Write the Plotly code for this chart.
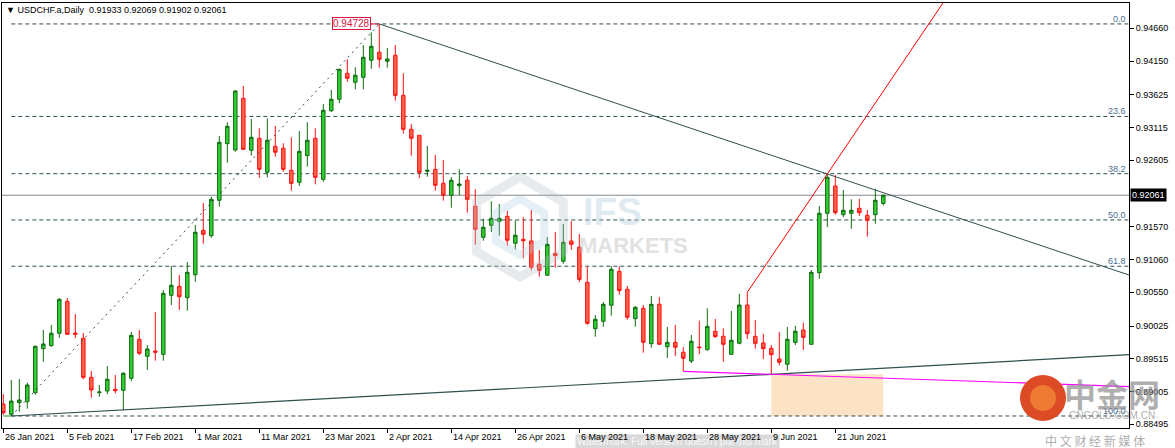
import plotly.graph_objects as go
import pandas as pd
import math

symbol = "USDCHF.a,Daily"

opens = [0.88811, 0.88650, 0.88831, 0.88846, 0.88987, 0.89672, 0.89719, 0.89912, 0.90410, 0.89916,
         0.89834, 0.89226, 0.88987, 0.89013, 0.89040, 0.89024, 0.89211, 0.89818, 0.89553, 0.89636,
         0.89584, 0.90503, 0.90643, 0.90466, 0.90824, 0.91515, 0.91431, 0.91982, 0.92864, 0.92765,
         0.93570, 0.92761, 0.92948, 0.92418, 0.92823, 0.92792, 0.92449, 0.92263, 0.92677, 0.92948,
         0.92309, 0.93377, 0.93555, 0.93960, 0.93820, 0.93897, 0.94162, 0.94287, 0.94147, 0.94240,
         0.93617, 0.93088, 0.92994, 0.92434, 0.92465, 0.92247, 0.92060, 0.92210, 0.92294, 0.91889,
         0.91406, 0.91593, 0.91655, 0.91733, 0.91313, 0.91375, 0.91349, 0.90986, 0.90815, 0.91157,
         0.91033, 0.91349, 0.91251, 0.90706, 0.89983, 0.90098, 0.90348, 0.90877, 0.90597, 0.90139,
         0.90301, 0.89750, 0.90363, 0.89703, 0.89771, 0.89616, 0.89480, 0.89698, 0.89656, 0.89943,
         0.89865, 0.89584, 0.89756, 0.90352, 0.89865, 0.89761, 0.89678, 0.89511, 0.89429, 0.89771,
         0.89963, 0.89740, 0.90855, 0.91780, 0.92205, 0.91758, 0.91780, 0.91858, 0.91749, 0.91758,
         0.91933]
highs = [0.88966, 0.89184, 0.89200, 0.89142, 0.89719, 0.89963, 0.90041, 0.90461, 0.90461, 0.90212,
         0.89916, 0.89325, 0.89107, 0.89402, 0.89262, 0.89304, 0.89932, 0.89963, 0.89729, 0.90243,
         0.90586, 0.90959, 0.90819, 0.91022, 0.91598, 0.91940, 0.92038, 0.92983, 0.93197, 0.93700,
         0.93762, 0.93248, 0.93103, 0.93259, 0.93139, 0.92870, 0.92963, 0.93061, 0.93197, 0.93103,
         0.93482, 0.93700, 0.94031, 0.94178, 0.94053, 0.94400, 0.94598, 0.94728, 0.94354, 0.94400,
         0.93960, 0.93170, 0.93000, 0.92828, 0.92688, 0.92610, 0.92345, 0.92465, 0.92361, 0.92154,
         0.91696, 0.91967, 0.91925, 0.91816, 0.91671, 0.91722, 0.91831, 0.91209, 0.91411, 0.91489,
         0.91613, 0.91660, 0.91458, 0.90949, 0.90196, 0.90399, 0.90959, 0.90955, 0.90648, 0.90337,
         0.90352, 0.90492, 0.90477, 0.90010, 0.90041, 0.89694, 0.89885, 0.90108, 0.90301, 0.90134,
         0.89989, 0.90259, 0.90528, 0.90550, 0.90119, 0.89905, 0.89729, 0.89932, 0.90010, 0.90030,
         0.90077, 0.90897, 0.91894, 0.92392, 0.92376, 0.92143, 0.91998, 0.92003, 0.91831, 0.92163,
         0.92069]
lows = [0.88639, 0.88624, 0.88691, 0.88738, 0.88956, 0.89469, 0.89703, 0.89843, 0.89890, 0.89834,
        0.89195, 0.88909, 0.88924, 0.88962, 0.88977, 0.88713, 0.89164, 0.89574, 0.89340, 0.89485,
        0.89485, 0.90352, 0.90274, 0.90263, 0.90715, 0.91307, 0.91400, 0.91883, 0.92568, 0.92739,
        0.92770, 0.92677, 0.92334, 0.92340, 0.92661, 0.92428, 0.92132, 0.92205, 0.92506, 0.92231,
        0.92272, 0.93357, 0.93493, 0.93829, 0.93711, 0.93711, 0.94031, 0.94047, 0.94047, 0.93533,
        0.93019, 0.92677, 0.92325, 0.92350, 0.92132, 0.91976, 0.91867, 0.92060, 0.91789, 0.91291,
        0.91353, 0.91489, 0.91431, 0.91276, 0.91219, 0.91079, 0.90892, 0.90793, 0.90810, 0.90933,
        0.90995, 0.91213, 0.90706, 0.90045, 0.89859, 0.90014, 0.90186, 0.90512, 0.90123, 0.90014,
        0.89610, 0.89687, 0.89735, 0.89527, 0.89558, 0.89320, 0.89449, 0.89584, 0.89641, 0.89843,
        0.89469, 0.89580, 0.89740, 0.89823, 0.89672, 0.89511, 0.89273, 0.89413, 0.89329, 0.89729,
        0.89651, 0.89735, 0.90762, 0.91567, 0.91758, 0.91722, 0.91540, 0.91738, 0.91416, 0.91618,
        0.91902]
closes = [0.88675, 0.88857, 0.88873, 0.89107, 0.89709, 0.89745, 0.89912, 0.90441, 0.89896, 0.89896,
          0.89226, 0.89029, 0.88998, 0.89195, 0.89018, 0.89289, 0.89880, 0.89600, 0.89667, 0.89616,
          0.90534, 0.90659, 0.90481, 0.90861, 0.91484, 0.91453, 0.91998, 0.92885, 0.93134, 0.93684,
          0.92776, 0.92963, 0.92465, 0.92917, 0.92730, 0.92465, 0.92247, 0.92745, 0.92917, 0.92340,
          0.93384, 0.93555, 0.94022, 0.93882, 0.93929, 0.94209, 0.94380, 0.94178, 0.94182, 0.93617,
          0.93088, 0.92948, 0.92418, 0.92449, 0.92216, 0.92060, 0.92294, 0.92236, 0.91998, 0.91531,
          0.91562, 0.91702, 0.91702, 0.91360, 0.91437, 0.91353, 0.90939, 0.90892, 0.91297, 0.91120,
          0.91328, 0.91297, 0.90752, 0.90067, 0.90130, 0.90363, 0.90908, 0.90575, 0.90161, 0.90316,
          0.89771, 0.90363, 0.89740, 0.89771, 0.89694, 0.89522, 0.89787, 0.89687, 0.90020, 0.89859,
          0.89740, 0.89803, 0.90352, 0.89905, 0.89756, 0.89672, 0.89578, 0.89460, 0.89818, 0.89943,
          0.89849, 0.90861, 0.91780, 0.92340, 0.91789, 0.91827, 0.91827, 0.91789, 0.91671, 0.91982,
          0.92061]

tick_labels = ["26 Jan 2021", "5 Feb 2021", "17 Feb 2021", "1 Mar 2021", "11 Mar 2021",
               "23 Mar 2021", "2 Apr 2021", "14 Apr 2021", "26 Apr 2021", "6 May 2021",
               "18 May 2021", "28 May 2021", "9 Jun 2021", "21 Jun 2021"]
price_ticks = [0.94660, 0.94150, 0.93625, 0.93115, 0.92605, 0.91570, 0.91060,
               0.90550, 0.90025, 0.89515, 0.89005, 0.88495]
fib_levels = [0.0, 23.6, 38.2, 50.0, 61.8, 100.0]

# ---------------------------------------------------------------
n = len(opens)
xs = list(range(n))
dates = pd.bdate_range("2021-01-26", periods=n)
date_str = [f"{d.day} {d.strftime('%b %Y')}" for d in dates]
tick_pos = [date_str.index(t) for t in tick_labels]

X0, X1 = -0.1625, 140.71
Y0, Y1 = 0.88437, 0.95054
W, H = 1175, 448
ML, MR, MT, MB = 2, 46, 3, 20
PW, PH = W - ML - MR, H - MT - MB


def px(xp):
    return (xp - ML) / PW


def py(yp):
    return 1 - (yp - MT) / PH


def extend(xa, ya, xb, yb, xe):
    s = (yb - ya) / (xb - xa)
    return [xa, xe], [ya, ya + s * (xe - xa)]


i_hi = highs.index(max(highs))
i_lo = lows.index(min(lows))
hi, lo = highs[i_hi], lows[i_lo]

FONT = "Liberation Sans, Arial, sans-serif"
CJK = "Noto Sans CJK SC"
DSG = "#2f4f4f"

fig = go.Figure()

tx, ty = extend(i_hi, hi, 103, highs[103], X1)
fig.add_trace(go.Scatter(x=tx, y=ty, mode="lines", line=dict(color=DSG, width=1),
                         hoverinfo="skip", showlegend=False))
tx, ty = extend(i_lo, lo, 96, lows[96], X1)
fig.add_trace(go.Scatter(x=tx, y=ty, mode="lines", line=dict(color=DSG, width=1.2),
                         hoverinfo="skip", showlegend=False))
tx, ty = extend(85, lows[85], 96, lows[96], X1)
fig.add_trace(go.Scatter(x=tx, y=ty, mode="lines", line=dict(color="#ff00ff", width=1.2),
                         hoverinfo="skip", showlegend=False))
tx, ty = extend(93, highs[93], 103, highs[103], 125)
fig.add_trace(go.Scatter(x=tx, y=ty, mode="lines", line=dict(color="#ff0000", width=1),
                         hoverinfo="skip", showlegend=False))
fig.add_trace(go.Scatter(x=[i_lo, i_hi], y=[lo, hi], mode="lines",
                         line=dict(color=DSG, width=1, dash="2px,4px"),
                         hoverinfo="skip", showlegend=False))

fig.add_trace(go.Candlestick(
    x=xs, open=opens, high=highs, low=lows, close=closes,
    increasing=dict(line=dict(color="#0d6b0d", width=1), fillcolor="#32cd32"),
    decreasing=dict(line=dict(color="#ff1010", width=1), fillcolor="#ff6347"),
    whiskerwidth=0, showlegend=False, hoverinfo="skip"))

shapes = []
shapes.append(dict(type="rect", xref="x", yref="y", x0=96, x1=110, y0=lo, y1=lows[96],
                   fillcolor="#fde3c6", line=dict(width=0), layer="below"))
shapes.append(dict(type="line", xref="paper", yref="y", x0=0, x1=1, y0=closes[-1], y1=closes[-1],
                   line=dict(color="#808890", width=1), layer="below"))
annotations = []
for lv in fib_levels:
    p = hi - lv / 100.0 * (hi - lo)
    shapes.append(dict(type="line", xref="x", yref="y", x0=1, x1=X1, y0=p, y1=p,
                       line=dict(color=DSG, width=1, dash="4px,3px"), layer="below"))
    annotations.append(dict(x=X1, y=p, xref="x", yref="y", text=f"{lv:.1f}", showarrow=False,
                            xanchor="right", yanchor="bottom", xshift=-1, yshift=-2,
                            font=dict(family=FONT, size=9, color="#4a6f94")))
shapes.append(dict(type="line", xref="x", yref="y", x0=0, x1=1, y0=lo, y1=lo,
                   line=dict(color="#1a9a1a", width=1)))
shapes.append(dict(type="line", xref="x", yref="y", x0=45.9, x1=i_hi, y0=hi, y1=hi,
                   line=dict(color="#dc143c", width=1)))


def hexpath(cx, cy, r):
    pts = []
    for k in range(6):
        a = math.radians(90 + 60 * k)
        pts.append((px(cx + r * math.cos(a)), py(cy - r * math.sin(a))))
    return "M " + " L ".join(f"{a:.5f},{b:.5f}" for a, b in pts) + " Z"


shapes.append(dict(type="path", xref="paper", yref="paper", path=hexpath(520, 227, 50),
                   line=dict(color="rgba(175,188,200,0.30)", width=9)))
shapes.append(dict(type="path", xref="paper", yref="paper", path=hexpath(520, 227, 28),
                   line=dict(color="rgba(170,205,225,0.30)", width=8)))
# cngold logo
shapes.append(dict(type="circle", xref="paper", yref="paper",
                   x0=px(1020), x1=px(1066), y0=py(421), y1=py(375),
                   fillcolor="#dc4a26", line=dict(width=0)))
shapes.append(dict(type="circle", xref="paper", yref="paper",
                   x0=px(1030), x1=px(1056), y0=py(411), y1=py(385),
                   fillcolor="#ee7a34", line=dict(width=0)))

annotations.append(dict(x=px(4), y=py(10), xref="paper", yref="paper", xanchor="left",
                        yanchor="middle", showarrow=False,
                        text=f"\u25BC {symbol}  {opens[-1]:.5f} {highs[-1]:.5f} {lows[-1]:.5f} {closes[-1]:.5f}",
                        font=dict(family=FONT, size=9, color="black")))
annotations.append(dict(x=45.9, y=hi, xref="x", yref="y", xanchor="right", yanchor="middle",
                        showarrow=False, text=f"{hi:.5f}", bgcolor="white",
                        bordercolor="#dc143c", borderwidth=1, borderpad=0,
                        font=dict(family=FONT, size=10, color="#dc143c")))
annotations.append(dict(x=1, y=closes[-1], xref="paper", yref="y", xanchor="left",
                        yanchor="middle", showarrow=False, text=f"{closes[-1]:.5f}",
                        bgcolor="black", borderpad=1, xshift=1,
                        font=dict(family=FONT, size=9, color="white")))
annotations.append(dict(x=px(677), y=py(441), xref="paper", yref="paper", showarrow=False,
                        xanchor="center", yanchor="middle",
                        text="Watermark: Full version doesn't put this mark",
                        bgcolor="rgba(170,170,170,0.45)", borderpad=1,
                        font=dict(family=FONT, size=10, color="rgba(255,255,255,0.85)")))
for pos, lab in zip(tick_pos, tick_labels):
    annotations.append(dict(x=pos, y=py(437), xref="x", yref="paper", xanchor="left",
                            yanchor="middle", showarrow=False, text=lab, xshift=0,
                            font=dict(family=FONT, size=9, color="black")))
annotations.append(dict(x=px(612), y=py(212), xref="paper", yref="paper", showarrow=False,
                        xanchor="center", yanchor="middle",
                        text="<b>IFS</b>", font=dict(family=FONT, size=38,
                                                     color="rgba(185,208,224,0.45)")))
annotations.append(dict(x=px(633), y=py(245), xref="paper", yref="paper", showarrow=False,
                        xanchor="center", yanchor="middle",
                        text="<b>MARKETS</b>", font=dict(family=FONT, size=22,
                                                         color="rgba(195,195,195,0.5)")))
annotations.append(dict(x=px(1112), y=py(393), xref="paper", yref="paper", showarrow=False,
                        xanchor="center", yanchor="middle",
                        text="<b>中金网</b>", font=dict(family=CJK, size=32,
                                                      color="rgba(140,140,140,0.7)")))
annotations.append(dict(x=px(1112), y=py(415), xref="paper", yref="paper", showarrow=False,
                        xanchor="center", yanchor="middle",
                        text="CNGOLD.COM.CN", font=dict(family=FONT, size=10,
                                                        color="rgba(150,150,150,0.8)")))
annotations.append(dict(x=px(1095), y=py(440), xref="paper", yref="paper", showarrow=False,
                        xanchor="center", yanchor="middle",
                        text="中 文 财 经 新 媒 体", font=dict(family=CJK, size=12,
                                                         color="rgba(150,150,150,0.8)")))

fig.update_layout(
    width=W, height=H, autosize=False,
    margin=dict(l=ML, r=MR, t=MT, b=MB, pad=0),
    paper_bgcolor="white", plot_bgcolor="white",
    boxgap=0.38,
    showlegend=False,
    shapes=shapes, annotations=annotations,
    xaxis=dict(range=[X0, X1], type="linear", showgrid=False, zeroline=False,
               showline=True, linecolor="black", linewidth=1, mirror=True,
               tickvals=tick_pos, ticks="outside", ticklen=4, tickcolor="black",
               showticklabels=False, rangeslider=dict(visible=False), fixedrange=True),
    yaxis=dict(range=[Y0, Y1], side="right", showgrid=False, zeroline=False,
               showline=True, linecolor="black", linewidth=1, mirror=True,
               tickvals=price_ticks, ticktext=[f"{v:.5f}" for v in price_ticks],
               ticks="outside", ticklen=4, tickcolor="black",
               tickfont=dict(family=FONT, size=9, color="black"), fixedrange=True),
)

fig.write_html("out.html", config={"displayModeBar": False},
               post_script="document.body.style.margin='0px';document.body.style.overflow='hidden';")
